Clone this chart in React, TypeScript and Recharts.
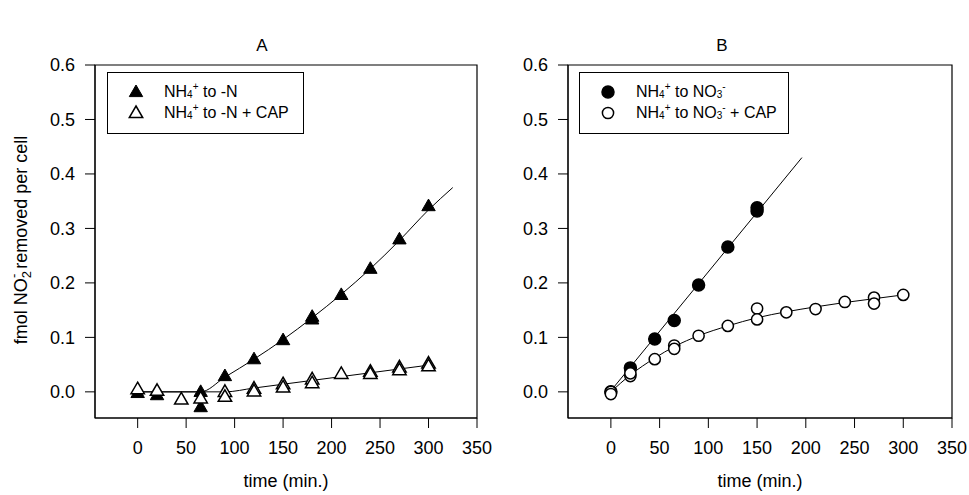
import React from "react";
import {
    ComposedChart,
    Scatter,
    Line,
    XAxis,
    YAxis,
    ReferenceArea,
} from "recharts";

// ---- data (time in min, fmol NO2- per cell) ----

// panel A: NH4+ to -N
const aFilledT = [0, 20, 65, 65, 90, 120, 150, 180, 180, 210, 240, 270, 300];
const aFilledV = [-0.002, -0.006, 0.0, -0.028, 0.029, 0.06, 0.095, 0.133, 0.138, 0.178, 0.226, 0.28, 0.341];

// panel A: NH4+ to -N + CAP
const aOpenT = [0, 20, 45, 65, 90, 90, 120, 120, 150, 150, 180, 180, 210, 240, 240, 270, 270, 300, 300];
const aOpenV = [0.005, 0.002, -0.014, -0.012, 0.0, -0.009, 0.006, 0.001, 0.014, 0.008, 0.023, 0.016, 0.033, 0.037, 0.033, 0.045, 0.04, 0.052, 0.047];

// fitted curves, panel A
const aFitFilledT = [0, 65, 90, 120, 150, 180, 210, 240, 270, 300, 325];
const aFitFilledV = [0.0, 0.0, 0.027, 0.06, 0.096, 0.136, 0.179, 0.226, 0.278, 0.334, 0.375];
const aFitOpenT = [0, 90, 120, 150, 180, 210, 240, 270, 300];
const aFitOpenV = [0.0, 0.0, 0.007, 0.014, 0.021, 0.028, 0.035, 0.042, 0.049];

// panel B: NH4+ to NO3-
const bFilledT = [0, 20, 45, 65, 90, 120, 150, 150];
const bFilledV = [0.0, 0.044, 0.097, 0.131, 0.196, 0.266, 0.332, 0.338];

// panel B: NH4+ to NO3- + CAP
const bOpenT = [0, 0, 20, 20, 45, 65, 65, 90, 120, 150, 150, 180, 210, 240, 270, 270, 300];
const bOpenV = [0.0, -0.004, 0.029, 0.034, 0.06, 0.085, 0.079, 0.103, 0.121, 0.153, 0.133, 0.146, 0.152, 0.165, 0.173, 0.162, 0.178];

// fitted curves, panel B
const bFitFilledT = [0, 196];
const bFitFilledV = [0.002, 0.43];
const bFitOpenT = [0, 20, 45, 65, 90, 120, 150, 180, 210, 240, 270, 300];
const bFitOpenV = [0.0, 0.031, 0.062, 0.083, 0.103, 0.121, 0.136, 0.147, 0.156, 0.164, 0.171, 0.178];

// axes
const xTicks = [0, 50, 100, 150, 200, 250, 300, 350];
const yTicks = [0, 0.1, 0.2, 0.3, 0.4, 0.5, 0.6];
const xDomain: [number, number] = [-44, 350];
const yDomain: [number, number] = [-0.048, 0.6];

const FONT = "'Liberation Sans', Arial, Helvetica, sans-serif";

function zip(ts: number[], vs: number[]) {
    return ts.map((t, i) => ({ t, v: vs[i] }));
}

/* ---- markers ---- */
function Tri({ cx, cy, filled }: { cx: number; cy: number; filled: boolean }) {
    const d = `M${cx},${cy - 7} L${cx + 6.7},${cy + 4.6} L${cx - 6.7},${cy + 4.6} Z`;
    return (
        <path
            d={d}
            fill={filled ? "#000" : "#fff"}
            stroke="#000"
            strokeWidth={filled ? 1 : 1.5}
            strokeLinejoin="miter"
        />
    );
}

function Dot({ cx, cy, filled }: { cx: number; cy: number; filled: boolean }) {
    return (
        <circle
            cx={cx}
            cy={cy}
            r={filled ? 6 : 5.6}
            fill={filled ? "#000" : "#fff"}
            stroke="#000"
            strokeWidth={1.5}
        />
    );
}

/* ---- one panel ---- */
interface PanelProps {
    width: number;
    marginLeft: number;
    marginRight: number;
    filled: { t: number; v: number }[];
    open: { t: number; v: number }[];
    fitFilled: { t: number; v: number }[];
    fitOpen: { t: number; v: number }[];
    marker: "tri" | "dot";
}

function Panel(p: PanelProps) {
    const Mark = p.marker === "tri" ? Tri : Dot;
    const tickStyle = { fill: "#000", fontSize: 18, fontFamily: FONT };
    return (
        <ComposedChart
            width={p.width}
            height={495}
            margin={{ top: 65, right: p.marginRight, bottom: 0, left: p.marginLeft }}
        >
            <XAxis
                type="number"
                dataKey="t"
                domain={xDomain}
                ticks={xTicks}
                allowDataOverflow
                height={77}
                tickSize={10}
                tickMargin={13}
                tick={tickStyle}
                stroke="#000"
                label={{
                    value: "time (min.)",
                    position: "insideBottom",
                    offset: 8,
                    fill: "#000",
                    fontSize: 18,
                    fontFamily: FONT,
                }}
            />
            <YAxis
                type="number"
                dataKey="v"
                domain={yDomain}
                ticks={yTicks}
                allowDataOverflow
                width={60}
                tickSize={10}
                tickMargin={10}
                tick={tickStyle}
                stroke="#000"
                tickFormatter={(v: number) => v.toFixed(1)}
            />
            <ReferenceArea
                x1={xDomain[0]}
                x2={xDomain[1]}
                y1={yDomain[0]}
                y2={yDomain[1]}
                fill="none"
                stroke="#000"
                strokeWidth={1.2}
            />

            <Line
                data={p.fitFilled}
                dataKey="v"
                type="monotone"
                stroke="#000"
                strokeWidth={1}
                dot={false}
                activeDot={false}
                isAnimationActive={false}
            />
            <Line
                data={p.fitOpen}
                dataKey="v"
                type="monotone"
                stroke="#000"
                strokeWidth={1}
                dot={false}
                activeDot={false}
                isAnimationActive={false}
            />
            <Scatter
                data={p.filled}
                dataKey="v"
                isAnimationActive={false}
                shape={(s: any) => <Mark cx={s.cx} cy={s.cy} filled />}
            />
            <Scatter
                data={p.open}
                dataKey="v"
                isAnimationActive={false}
                shape={(s: any) => <Mark cx={s.cx} cy={s.cy} filled={false} />}
            />
        </ComposedChart>
    );
}

/* ---- legend box ---- */
function LegendBox({
    left,
    top,
    width,
    marker,
    rows,
}: {
    left: number;
    top: number;
    width: number;
    marker: "tri" | "dot";
    rows: React.ReactNode[];
}) {
    const Mark = marker === "tri" ? Tri : Dot;
    return (
        <div
            style={{
                position: "absolute",
                left,
                top,
                width,
                height: 62,
                border: "1px solid #000",
                boxSizing: "border-box",
                fontFamily: FONT,
                fontSize: 16,
                color: "#000",
            }}
        >
            {rows.map((r, i) => (
                <div
                    key={i}
                    style={{
                        position: "absolute",
                        left: 0,
                        top: 9 + i * 21,
                        height: 20,
                        display: "flex",
                        alignItems: "center",
                        whiteSpace: "nowrap",
                    }}
                >
                    <svg width={50} height={20} style={{ flex: "none" }}>
                        <Mark cx={28} cy={10} filled={i === 0} />
                    </svg>
                    <span style={{ marginLeft: 6 }}>{r}</span>
                </div>
            ))}
        </div>
    );
}

const sub = (s: string) => (
    <sub style={{ fontSize: 10, verticalAlign: "baseline", position: "relative", top: 1 }}>{s}</sub>
);
const sup = (s: string) => (
    <sup style={{ fontSize: 10, verticalAlign: "baseline", position: "relative", top: -7 }}>{s}</sup>
);

export default function App() {
    return (
        <div
            style={{
                position: "absolute",
                left: 0,
                top: 0,
                width: 969,
                height: 495,
                background: "#fff",
                overflow: "hidden",
            }}
        >
            {/* Panel A */}
            <div style={{ position: "absolute", left: 0, top: 0 }}>
                <Panel
                    width={500}
                    marginLeft={35}
                    marginRight={23}
                    filled={zip(aFilledT, aFilledV)}
                    open={zip(aOpenT, aOpenV)}
                    fitFilled={zip(aFitFilledT, aFitFilledV)}
                    fitOpen={zip(aFitOpenT, aFitOpenV)}
                    marker="tri"
                />
            </div>

            {/* Panel B */}
            <div style={{ position: "absolute", left: 484, top: 0 }}>
                <Panel
                    width={485}
                    marginLeft={24}
                    marginRight={17}
                    filled={zip(bFilledT, bFilledV)}
                    open={zip(bOpenT, bOpenV)}
                    fitFilled={zip(bFitFilledT, bFitFilledV)}
                    fitOpen={zip(bFitOpenT, bFitOpenV)}
                    marker="dot"
                />
            </div>

            {/* panel titles + y label */}
            <svg
                width={969}
                height={495}
                style={{ position: "absolute", left: 0, top: 0, pointerEvents: "none" }}
            >
                <g fontFamily={FONT} fontSize={17} fill="#000">
                    <text x={262} y={51} textAnchor="middle">A</text>
                    <text x={722} y={51} textAnchor="middle">B</text>
                    <text transform="translate(27,240) rotate(-90)" textAnchor="middle" fontSize={18}>
                        <tspan>fmol NO</tspan>
                        <tspan fontSize={13} dy={4}>2</tspan>
                        <tspan fontSize={13} dx={-7} dy={-13}>-</tspan>
                        <tspan dy={9}>{"\u00a0removed per cell"}</tspan>
                    </text>
                </g>
            </svg>

            <LegendBox
                left={107}
                top={72}
                width={197}
                marker="tri"
                rows={[
                    <>NH{sub("4")}{sup("+")} to -N</>,
                    <>NH{sub("4")}{sup("+")} to -N + CAP</>,
                ]}
            />
            <LegendBox
                left={579}
                top={72}
                width={210}
                marker="dot"
                rows={[
                    <>NH{sub("4")}{sup("+")} to NO{sub("3")}{sup("-")}</>,
                    <>NH{sub("4")}{sup("+")} to NO{sub("3")}{sup("-")} + CAP</>,
                ]}
            />
        </div>
    );
}
